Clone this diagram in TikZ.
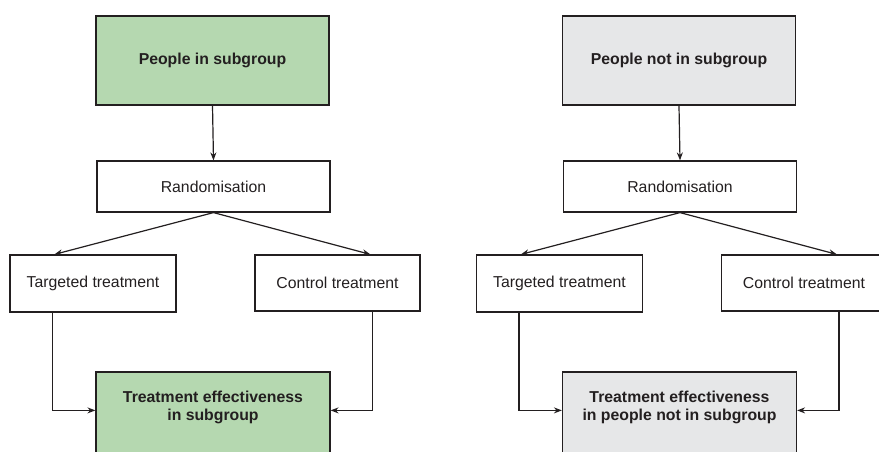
\documentclass[tikz,border=0pt]{standalone}
\usepackage{fontspec}
\setmainfont{Liberation Sans}
\usetikzlibrary{arrows.meta}
\definecolor{ink}{HTML}{231F20}
\definecolor{subgreen}{HTML}{B5D8B0}
\definecolor{subgray}{HTML}{E6E7E8}
\tikzset{
  box/.style={draw=ink, line width=1.2pt, inner sep=0pt, text=ink,
    font=\fontsize{15.8}{18.5}\selectfont, align=center},
  boxtext/.style={inner sep=0pt, text=ink, align=center,
    font=\fontsize{15.8}{18.5}\selectfont\bfseries},
  arr/.style={draw=ink, line width=1.2pt, -{Stealth[length=8pt,width=6pt]}},
}
\newcommand\drawpanel[5]{%
  \begin{scope}[xshift=#2pt]
    \node[box, fill=#3, minimum width=233pt, minimum height=89pt, font=\fontsize{15.8}{18.5}\selectfont\bfseries]
      (#1top) at (212.5,60.5) {#4};
    \node[box, minimum width=233pt, minimum height=51pt] (#1rand) at (213.5,186.5) {Randomisation};
    \node[box, minimum width=166pt, minimum height=57pt] (#1tt) at (93,283.5) {Targeted treatment};
    \node[box, minimum width=165pt, minimum height=56pt] (#1ct) at (337.5,283) {Control treatment};
    \node[box, fill=#3, minimum width=234pt, minimum height=98pt] (#1eff) at (213,421) {};
    \node[boxtext] (#1efftext) at ([yshift=-36pt]#1eff.north) {#5};
    \draw[arr] (#1top.south) -- (#1rand.north);
    \draw[arr] (#1rand.south) -- ([xshift=45pt]#1tt.north west);
    \draw[arr] (#1rand.south) -- ([xshift=116pt]#1ct.north west);
    \draw[arr] ([xshift=43pt]#1tt.south west) |- ([yshift=-39pt]#1eff.north west);
    \draw[arr] ([xshift=118pt]#1ct.south west) |- ([yshift=-39pt]#1eff.north east);
  \end{scope}}
\begin{document}
\begin{tikzpicture}[x=1pt,y=-1pt]
  \useasboundingbox (0,0) rectangle (879,452);
  \clip (0,0) rectangle (879,452);
  \drawpanel{L}{0}{subgreen}{People in subgroup}{Treatment effectiveness\\in subgroup}
  \drawpanel{R}{466.5}{subgray}{People not in subgroup}{Treatment effectiveness\\in people not in subgroup}
\end{tikzpicture}
\end{document}
